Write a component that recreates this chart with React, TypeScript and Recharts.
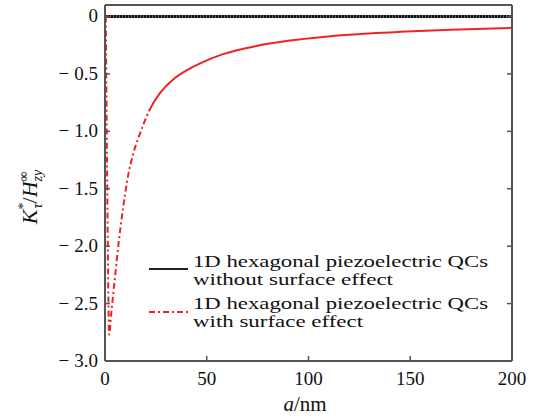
import React from "react";
import { LineChart, Line, XAxis, YAxis, Customized } from "recharts";

// curve with surface effect
const surfA = [0.4, 1.0, 1.5, 2.0, 3.1, 4.8, 6.7, 8.8, 11.3, 13.8, 17.9, 22, 26.9, 33.4, 40, 46.5, 58, 74.4, 90.8, 107, 120, 145, 170, 200];
const surfK = [0, -1.3, -2.2, -2.77, -2.58, -2.29, -1.97, -1.68, -1.39, -1.2, -0.985, -0.81, -0.67, -0.55, -0.47, -0.41, -0.328, -0.257, -0.21, -0.178, -0.159, -0.134, -0.116, -0.099];

// curve without surface effect
const bareA = [0, 50, 100, 150, 200];
const bareK = [0, 0, 0, 0, 0];

const xTicks = [0, 50, 100, 150, 200];
const yTicks = [-3, -2.5, -2, -1.5, -1, -0.5, 0];

const legendLines = [
    ["1D hexagonal piezoelectric QCs", "without surface effect"],
    ["1D hexagonal piezoelectric QCs", "with surface effect"],
];

const surfData = surfA.map((a, i) => ({ a, k: surfK[i] }));
const bareData = bareA.map((a, i) => ({ a, k: bareK[i] }));

const FONT = "Liberation Serif";
const FRAME = "#555";
const RED = "#ee2424";
const DASH = "6 3 2 3";
// dash-dot along the steep start of the curve, solid once it flattens out
const CURVE_DASH = Array(39).fill(DASH).join(" ") + " 3000 0";

const BottomTick = (props: any) => {
    const { x, y, payload } = props;
    return (
        <g>
            <line x1={x} y1={y} x2={x} y2={y - 5} stroke={FRAME} strokeWidth={1.5} />
            <text x={x} y={y + 24} textAnchor="middle" fontFamily={FONT} fontSize={19} fill="#111">
                {payload.value}
            </text>
        </g>
    );
};

const TopTick = (props: any) => {
    const { x, y } = props;
    return <line x1={x} y1={y} x2={x} y2={y + 5} stroke={FRAME} strokeWidth={1.5} />;
};

const LeftTick = (props: any) => {
    const { x, y, payload } = props;
    const v = payload.value;
    return (
        <g>
            <line x1={x} y1={y} x2={x + 5} y2={y} stroke={FRAME} strokeWidth={1.5} />
            <text x={x - 7} y={y + 6} textAnchor="end" fontFamily={FONT} fontSize={19} fill="#111">
                {v === 0 ? (
                    "0"
                ) : (
                    <>
                        <tspan>−</tspan>
                        <tspan dx={5}>{Math.abs(v).toFixed(1)}</tspan>
                    </>
                )}
            </text>
        </g>
    );
};

const RightTick = (props: any) => {
    const { x, y } = props;
    return <line x1={x} y1={y} x2={x - 5} y2={y} stroke={FRAME} strokeWidth={1.5} />;
};

const YLabel = () => (
    <text transform="translate(37,197) rotate(-90)" textAnchor="middle" fontFamily={FONT} fontSize={22} fill="#111">
        <tspan fontStyle="italic">K</tspan>
        <tspan fontSize={14} dy={-9}>*</tspan>
        <tspan fontSize={14} fontStyle="italic" dx={-6} dy={14}>τ</tspan>
        <tspan dy={-5}>/</tspan>
        <tspan fontStyle="italic">H</tspan>
        <tspan fontSize={14} dy={-9}>∞</tspan>
        <tspan fontSize={14} fontStyle="italic" dx={-10} dy={14}>zy</tspan>
    </text>
);

const XLabel = () => (
    <text x={305} y={411} textAnchor="middle" fontFamily={FONT} fontSize={21} fill="#111">
        <tspan fontStyle="italic">a</tspan>
        <tspan>/nm</tspan>
    </text>
);

const LegendBox = () => {
    const widths = [[295, 200], [295, 170]];
    const tops = [267, 309];
    return (
        <g>
            <line x1={149} y1={269} x2={188} y2={269} stroke="#222" strokeWidth={2.2} />
            <line x1={149} y1={312} x2={188} y2={312} stroke={RED} strokeWidth={2} strokeDasharray={DASH} />
            {legendLines.map((pair, i) =>
                pair.map((txt, j) => (
                    <text
                        key={`${i}-${j}`}
                        x={193}
                        y={tops[i] + j * 18}
                        fontFamily={FONT}
                        fontSize={17}
                        fill="#111"
                        textLength={widths[i][j]}
                        lengthAdjust="spacingAndGlyphs"
                    >
                        {txt}
                    </text>
                ))
            )}
        </g>
    );
};

export default function App() {
    return (
        <div style={{ position: "absolute", left: 0, top: 0, width: 544, height: 419, background: "#fff" }}>
            <LineChart width={544} height={419} margin={{ top: 0, right: 0, bottom: 0, left: 0 }}>
                <XAxis
                    xAxisId="b"
                    dataKey="a"
                    type="number"
                    domain={[0, 200]}
                    ticks={xTicks}
                    height={58}
                    tickSize={0}
                    tickMargin={0}
                    tickLine={false}
                    axisLine={{ stroke: FRAME, strokeWidth: 2 }}
                    tick={<BottomTick />}
                    allowDataOverflow
                />
                <XAxis
                    xAxisId="t"
                    orientation="top"
                    type="number"
                    domain={[0, 200]}
                    ticks={xTicks}
                    height={5}
                    tickSize={0}
                    tickMargin={0}
                    tickLine={false}
                    axisLine={{ stroke: FRAME, strokeWidth: 2 }}
                    tick={<TopTick />}
                    allowDataOverflow
                />
                <YAxis
                    yAxisId="l"
                    type="number"
                    domain={[-3, 0.1]}
                    ticks={yTicks}
                    width={105}
                    tickSize={0}
                    tickMargin={0}
                    tickLine={false}
                    axisLine={{ stroke: FRAME, strokeWidth: 2 }}
                    tick={<LeftTick />}
                    allowDataOverflow
                />
                <YAxis
                    yAxisId="r"
                    orientation="right"
                    type="number"
                    domain={[-3, 0.1]}
                    ticks={yTicks}
                    width={32}
                    tickSize={0}
                    tickMargin={0}
                    tickLine={false}
                    axisLine={{ stroke: FRAME, strokeWidth: 2 }}
                    tick={<RightTick />}
                    allowDataOverflow
                />
                <Line
                    xAxisId="b"
                    yAxisId="l"
                    data={bareData}
                    dataKey="k"
                    type="linear"
                    stroke="#666"
                    strokeWidth={3}
                    dot={false}
                    activeDot={false}
                    isAnimationActive={false}
                />
                <Line
                    xAxisId="b"
                    yAxisId="l"
                    data={bareData}
                    dataKey="k"
                    type="linear"
                    stroke="#111"
                    strokeWidth={3}
                    strokeDasharray="2 1"
                    dot={false}
                    activeDot={false}
                    isAnimationActive={false}
                />
                <Line
                    xAxisId="b"
                    yAxisId="l"
                    data={surfData}
                    dataKey="k"
                    type="monotone"
                    stroke={RED}
                    strokeWidth={2}
                    strokeDasharray={CURVE_DASH}
                    dot={false}
                    activeDot={false}
                    isAnimationActive={false}
                />
                <Customized component={LegendBox} />
                <Customized component={YLabel} />
                <Customized component={XLabel} />
            </LineChart>
        </div>
    );
}
